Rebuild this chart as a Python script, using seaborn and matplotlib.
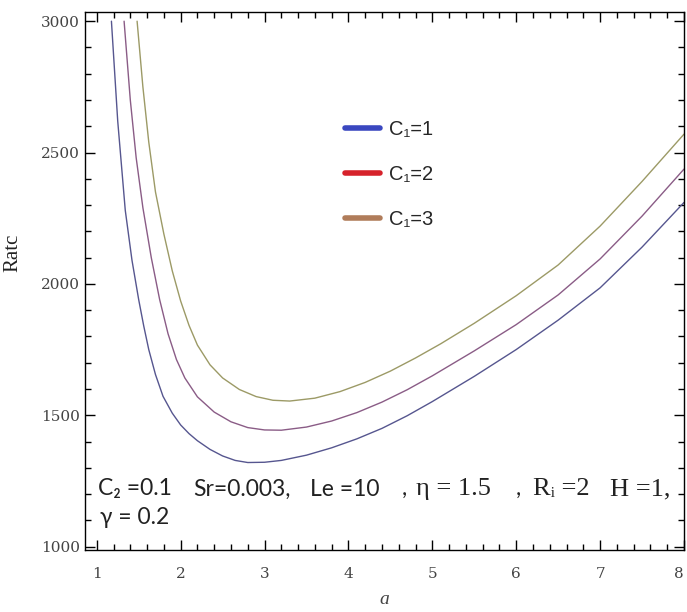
import numpy as np
import pandas as pd
import matplotlib
matplotlib.use("Agg")
import matplotlib.pyplot as plt
from matplotlib.lines import Line2D
from matplotlib.ticker import MultipleLocator
import seaborn as sns

# values
a_c1 = [1.175, 1.25, 1.34, 1.42, 1.50, 1.56, 1.62, 1.70, 1.79, 1.90, 2.00, 2.10, 2.20, 2.35, 2.50,
        2.65, 2.80, 3.00, 3.20, 3.50, 3.80, 4.10, 4.40, 4.70, 5.00, 5.50, 6.00, 6.50, 7.00, 7.50, 8.00]
r_c1 = [3000, 2620, 2280, 2090, 1940, 1840, 1750, 1655, 1572, 1508, 1463, 1430, 1403, 1370, 1345,
        1328, 1320, 1321, 1328, 1348, 1376, 1410, 1450, 1498, 1552, 1648, 1750, 1862, 1985, 2140, 2310]

a_c2 = [1.326, 1.40, 1.47, 1.55, 1.65, 1.75, 1.85, 1.95, 2.05, 2.20, 2.40, 2.60, 2.80, 3.00, 3.20,
        3.50, 3.80, 4.10, 4.40, 4.70, 5.00, 5.50, 6.00, 6.50, 7.00, 7.50, 8.00]
r_c2 = [3000, 2700, 2480, 2290, 2100, 1940, 1810, 1712, 1642, 1570, 1512, 1475, 1453, 1444, 1443,
        1455, 1478, 1510, 1550, 1597, 1650, 1745, 1845, 1958, 2095, 2258, 2437]

a_c3 = [1.481, 1.55, 1.62, 1.70, 1.80, 1.90, 2.00, 2.10, 2.20, 2.35, 2.50, 2.70, 2.90, 3.10, 3.30,
        3.60, 3.90, 4.20, 4.50, 4.80, 5.10, 5.50, 6.00, 6.50, 7.00, 7.50, 8.00]
r_c3 = [3000, 2750, 2540, 2350, 2190, 2050, 1935, 1842, 1767, 1692, 1642, 1598, 1571, 1557, 1554,
        1565, 1590, 1625, 1668, 1718, 1772, 1850, 1955, 2072, 2220, 2390, 2570]

series_names = ["C\u2081=1", "C\u2081=2", "C\u2081=3"]
line_colors = ["#56568f", "#8a5c86", "#9c9a66"]
legend_colors = ["#3a47c0", "#d6222b", "#b07c5a"]

# parameter line: (left edge in px, text, font group)
note_line1 = [(98, "C\u2082 =0.1", "sans"), (193, "Sr=0.003,", "sans"), (310, "Le =10", "sans"),
              (402, ",", "sans"), (416, "\u03b7 = 1.5", "serif"), (516, ",", "sans"),
              (533, "R\u1d62 =2", "serif"), (610, "H =1,", "serif")]
note_line2 = [(100, "\u03b3 = 0.2", "sans")]

frames = []
for name, a, r in zip(series_names, [a_c1, a_c2, a_c3], [r_c1, r_c2, r_c3]):
    frames.append(pd.DataFrame({"a": a, "Ratc": r, "series": name}))
df = pd.concat(frames, ignore_index=True)

sns.set_theme(style="ticks")
plt.rcParams["font.family"] = ["DejaVu Sans"]
families = {"sans": ["Lato", "DejaVu Sans"],
            "serif": ["Liberation Serif", "DejaVu Serif", "DejaVu Sans"]}

W, H = 687, 612
fig = plt.figure(figsize=(W / 100, H / 100), dpi=100)
ax = fig.add_axes([85 / W, 1 - 550 / H, 599 / W, 538 / H])

sns.lineplot(data=df, x="a", y="Ratc", hue="series", palette=dict(zip(series_names, line_colors)),
             sort=False, estimator=None, linewidth=1.0, legend=False, ax=ax)

ax.set_xlim(0.86, 8.0)
ax.set_ylim(987, 3035)
ax.xaxis.set_major_locator(MultipleLocator(1))
ax.xaxis.set_minor_locator(MultipleLocator(0.2))
ax.yaxis.set_major_locator(MultipleLocator(500))
ax.yaxis.set_minor_locator(MultipleLocator(100))
ax.tick_params(which="both", direction="in", top=True, right=True, colors="black",
               labelcolor="#444444", labelsize=11, width=1.0)
ax.tick_params(which="major", length=7)
ax.tick_params(which="minor", length=4)
ax.tick_params(axis="x", pad=12)
for s in ax.spines.values():
    s.set_color("black")
    s.set_linewidth(1.0)

ax.set_xlabel("a", fontsize=14, family="Liberation Serif", style="italic", color="#444444")
ax.xaxis.set_label_coords(0.5, -0.076)
ax.set_ylabel("Ratc", fontsize=15, family="Liberation Serif", color="#222222")
ax.yaxis.set_label_coords(-0.104, 0.552)

handles = [Line2D([0], [0], color=c, lw=4, solid_capstyle="round") for c in legend_colors]
leg = ax.legend(handles, series_names, loc="upper left", bbox_to_anchor=(0.404, 0.833), frameon=False,
                fontsize=14.5, handlelength=1.75, handletextpad=0.45, labelspacing=1.3)
for t in leg.get_texts():
    t.set_family(["Liberation Sans", "DejaVu Sans"])

for y_px, pieces in [(489, note_line1), (518, note_line2)]:
    for x_px, txt, fam in pieces:
        fig.text(x_px / W, 1 - y_px / H, txt, fontsize=16.5 if fam == "sans" else 19,
                 family=families[fam], ha="left", va="center", color="#222222")

fig.canvas.draw()
for lab in ax.get_xticklabels() + ax.get_yticklabels():
    lab.set_family("DejaVu Serif")
    # the last x label sits on the frame edge; keep it inside the picture
    if lab.get_text() == "8":
        lab.set_horizontalalignment("right")

fig.savefig("out.png", dpi=100)
